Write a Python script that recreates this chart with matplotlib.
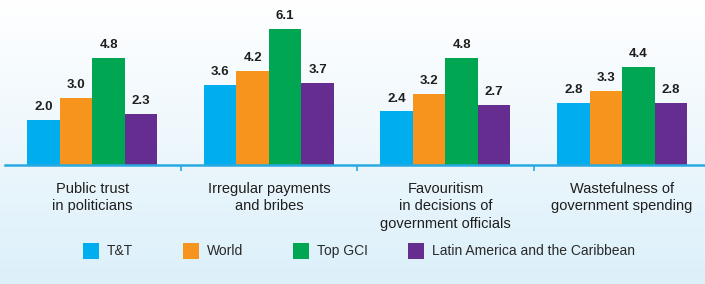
import numpy as np
import matplotlib
matplotlib.use("Agg")
import matplotlib.pyplot as plt
from matplotlib.patches import Rectangle

categories = ["Public trust\nin politicians",
              "Irregular payments\nand bribes",
              "Favouritism\nin decisions of\ngovernment officials",
              "Wastefulness of\ngovernment spending"]
series = ["T&T", "World", "Top GCI", "Latin America and the Caribbean"]
tt = [2.0, 3.6, 2.4, 2.8]
world = [3.0, 4.2, 3.2, 3.3]
top_gci = [4.8, 6.1, 4.8, 4.4]
latam = [2.3, 3.7, 2.7, 2.8]
colors = ["#00aeef", "#f7941d", "#00a651", "#662d91"]

plt.rcParams['font.family'] = ['Liberation Sans', 'DejaVu Sans']

W, H = 705, 284
fig = plt.figure(figsize=(W / 100, H / 100), dpi=100)

# background gradient, white at top -> light blue at bottom
bg = fig.add_axes([0, 0, 1, 1], zorder=-10)
grad = np.linspace(0, 1, 256)[:, None, None]
top_c = np.array([1.0, 1.0, 1.0])
bot_c = np.array([0xdc, 0xf0, 0xfa]) / 255.0
img = top_c + (bot_c - top_c) * (1 - grad)
img = np.repeat(img, 2, axis=1)
bg.imshow(img, aspect="auto", extent=[0, 1, 0, 1], origin="lower")
bg.axis("off")

ax = fig.add_axes([0.007, 0.419, 0.993, 0.581])
ax.patch.set_alpha(0)

x = np.arange(len(categories))
w = 0.184
data = [tt, world, top_gci, latam]
for i, vals in enumerate(data):
    pos = x + (i - 1.5) * w
    bars = ax.bar(pos, vals, width=w, color=colors[i], label=series[i], zorder=2)
    for b, v in zip(bars, vals):
        ax.annotate("%.1f" % v, (b.get_x() + b.get_width() / 2, v),
                    xytext=(0, 5), textcoords="offset points", ha="center", va="bottom",
                    fontsize=9.5, fontweight="bold", color="#1e1e1e")

ax.set_xlim(-0.495, 3.47)
ax.set_ylim(0, 7.4)
for s in ["top", "right", "left"]:
    ax.spines[s].set_visible(False)
ax.spines["bottom"].set_color("#29a9e0")
ax.spines["bottom"].set_linewidth(1.8)
ax.set_yticks([])
ax.set_xticks([0.5, 1.5, 2.5])
ax.set_xticklabels([])
ax.tick_params(axis="x", direction="out", length=4, width=1.2, color="#29a9e0")

for xi, lab in zip(x, categories):
    ax.text(xi, -0.1, lab, transform=ax.get_xaxis_transform(), ha="center", va="top",
            fontsize=10.5, color="#1e1e1e", linespacing=1.35)

# legend drawn by hand so the spacing follows the original
leg_x = [83, 183, 293, 408]  # left edge of each swatch, px
leg_y = 251
sq = 16
for lx, c, s in zip(leg_x, colors, series):
    fig.patches.append(Rectangle((lx / W, (H - leg_y - sq / 2) / H), sq / W, sq / H,
                                 transform=fig.transFigure, facecolor=c, edgecolor="none"))
    fig.text((lx + sq + 8) / W, (H - leg_y) / H, s, ha="left", va="center",
             fontsize=10, color="#2a2a2a")

fig.savefig("out.png", dpi=100)
